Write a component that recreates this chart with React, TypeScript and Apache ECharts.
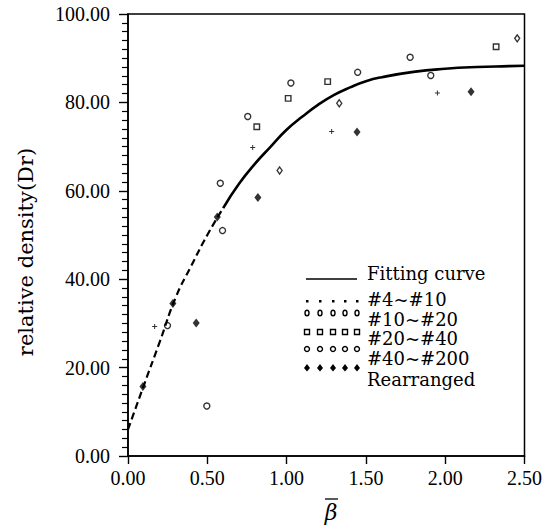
import React, { useEffect, useRef } from "react";
import * as echarts from "echarts";

// Fitting curve
const fitX = [0, 0.1, 0.2, 0.3, 0.4, 0.5, 0.6, 0.7, 0.8, 0.9, 1.0, 1.1, 1.2, 1.3, 1.4, 1.5, 1.6, 1.8, 2.0, 2.2, 2.4, 2.5];
const fitY = [6.0, 16.0, 25.8, 35.8, 43.1, 50.0, 56.1, 61.6, 66.1, 70.0, 73.8, 76.8, 79.5, 81.7, 83.4, 84.8, 85.7, 86.9, 87.6, 88.0, 88.2, 88.3];
const dashedUntil = 0.6;

// Measured groups
const s4X = [0.168, 0.786, 1.284, 1.951];
const s4Y = [29.3, 69.8, 73.4, 82.1];
const s10X = [0.956, 1.332, 2.454];
const s10Y = [64.6, 79.8, 94.5];
const s20X = [0.812, 1.01, 1.259, 2.321];
const s20Y = [74.5, 80.9, 84.7, 92.6];
const s40X = [0.249, 0.497, 0.582, 0.596, 0.755, 1.027, 1.448, 1.779, 1.909];
const s40Y = [29.5, 11.3, 61.7, 51.0, 76.8, 84.4, 86.8, 90.2, 86.1];
const reX = [0.094, 0.283, 0.43, 0.563, 0.819, 1.444, 2.163];
const reY = [15.7, 34.5, 30.1, 54.1, 58.5, 73.3, 82.4];

const legendLabels = ["Fitting curve", "#4~#10", "#10~#20", "#20~#40", "#40~#200", "Rearranged"];
const xTicks = [0, 0.5, 1.0, 1.5, 2.0, 2.5];
const yTicks = [0, 20, 40, 60, 80, 100];

const zip = (xs: number[], ys: number[]) => xs.map((x, i) => [x, ys[i]]);
const PLUS = "path://M2,0H3V2H5V3H3V5H2V3H0V2H2Z";
const SERIF = "Liberation Serif";
const DSERIF = "DejaVu Serif";

export default function App() {
  const ref = useRef<HTMLDivElement>(null);
  useEffect(() => {
    if (!ref.current) return;
    const chart = echarts.init(ref.current, undefined, { renderer: "svg" });
    const dashedPts = zip(fitX, fitY).filter((p) => p[0] <= dashedUntil);
    const solidPts = zip(fitX, fitY).filter((p) => p[0] >= dashedUntil);
    const open = { color: "#fff", borderColor: "#000", borderWidth: 1.4 };

    // legend graphics
    const lx = 367;
    const textYs = [273, 299, 319, 338, 358, 379];
    const markYs = [301, 313, 332, 349, 368];
    const markXs = [307, 320, 333, 345, 357];
    const graphic: any[] = [];
    legendLabels.forEach((t, i) => {
      graphic.push({
        type: "text",
        x: lx,
        y: textYs[i],
        style: { text: t, fontFamily: DSERIF, fontSize: 18, fill: "#000", align: "left", verticalAlign: "middle" },
      });
    });
    graphic.push({
      type: "line",
      shape: { x1: 306, y1: 279, x2: 357, y2: 279 },
      style: { stroke: "#000", lineWidth: 1.5 },
    });
    markXs.forEach((mx) => {
      graphic.push({ type: "rect", shape: { x: mx - 1, y: markYs[0] - 1, width: 2.5, height: 2.5 }, style: { fill: "#000" } });
      graphic.push({ type: "ellipse", shape: { cx: mx, cy: markYs[1], rx: 2, ry: 2.8 }, style: { fill: "#fff", stroke: "#000", lineWidth: 1.4 } });
      graphic.push({ type: "rect", shape: { x: mx - 2.5, y: markYs[2] - 2.5, width: 5, height: 5 }, style: { fill: "#fff", stroke: "#000", lineWidth: 1.4 } });
      graphic.push({ type: "circle", shape: { cx: mx, cy: markYs[3], r: 2.5 }, style: { fill: "#fff", stroke: "#000", lineWidth: 1.4 } });
      graphic.push({ type: "polygon", shape: { points: [[mx, markYs[4] - 4], [mx + 3, markYs[4]], [mx, markYs[4] + 3.5], [mx - 3, markYs[4]]] }, style: { fill: "#000" } });
    });
    // axis titles
    graphic.push({
      type: "text",
      x: 26,
      y: 252,
      rotation: Math.PI / 2,
      style: { text: "relative density(Dr)", fontFamily: DSERIF, fontSize: 21, fill: "#000", align: "center", verticalAlign: "middle" },
    });
    graphic.push({
      type: "text",
      x: 331,
      y: 512,
      style: { text: "β", fontFamily: DSERIF, fontStyle: "italic", fontSize: 22, fill: "#000", align: "center", verticalAlign: "middle" },
    });
    graphic.push({
      type: "line",
      shape: { x1: 325, y1: 499, x2: 338, y2: 499 },
      style: { stroke: "#000", lineWidth: 1.3 },
    });

    chart.setOption({
      animation: false,
      backgroundColor: "#fff",
      grid: { left: 128, right: 16, top: 14, bottom: 72, show: true, borderColor: "#000", borderWidth: 1.5, backgroundColor: "transparent" },
      xAxis: {
        type: "value",
        min: xTicks[0],
        max: xTicks[xTicks.length - 1],
        interval: 0.5,
        axisLine: { show: true, lineStyle: { color: "#000", width: 1.6 } },
        axisTick: { show: true, length: 8, lineStyle: { color: "#000", width: 1.4 } },
        splitLine: { show: false },
        axisLabel: { color: "#000", fontFamily: SERIF, fontSize: 20, margin: 12, formatter: (v: number) => v.toFixed(2) },
      },
      yAxis: {
        type: "value",
        min: yTicks[0],
        max: yTicks[yTicks.length - 1],
        interval: 20,
        axisLine: { show: true, lineStyle: { color: "#000", width: 1.6 } },
        axisTick: { show: true, length: 9, lineStyle: { color: "#000", width: 1.4 } },
        minorTick: { show: true, splitNumber: 10, length: 6, lineStyle: { color: "#000", width: 1.2 } },
        splitLine: { show: false },
        axisLabel: { color: "#000", fontFamily: SERIF, fontSize: 20, margin: 18, formatter: (v: number) => v.toFixed(2) },
      },
      series: [
        {
          name: "Fitting curve dashed",
          type: "line",
          data: dashedPts,
          showSymbol: false,
          smooth: true,
          lineStyle: { color: "#000", width: 2.2, type: [7, 4] },
        },
        {
          name: "Fitting curve",
          type: "line",
          data: solidPts,
          showSymbol: false,
          smooth: true,
          lineStyle: { color: "#000", width: 2.6 },
        },
        { name: "#4~#10", type: "scatter", data: zip(s4X, s4Y), symbol: PLUS, symbolSize: 5, itemStyle: { color: "#000" } },
        { name: "#10~#20", type: "scatter", data: zip(s10X, s10Y), symbol: "diamond", symbolSize: [5, 7], itemStyle: open },
        { name: "#20~#40", type: "scatter", data: zip(s20X, s20Y), symbol: "rect", symbolSize: 5.5, itemStyle: open },
        { name: "#40~#200", type: "scatter", data: zip(s40X, s40Y), symbol: "circle", symbolSize: 6, itemStyle: open },
        { name: "Rearranged", type: "scatter", data: zip(reX, reY), symbol: "diamond", symbolSize: [7, 9], itemStyle: { color: "#000" } },
      ],
      graphic,
    });
    return () => chart.dispose();
  }, []);
  return <div ref={ref} style={{ position: "fixed", left: 0, top: 0, width: 545, height: 528 }} />;
}
